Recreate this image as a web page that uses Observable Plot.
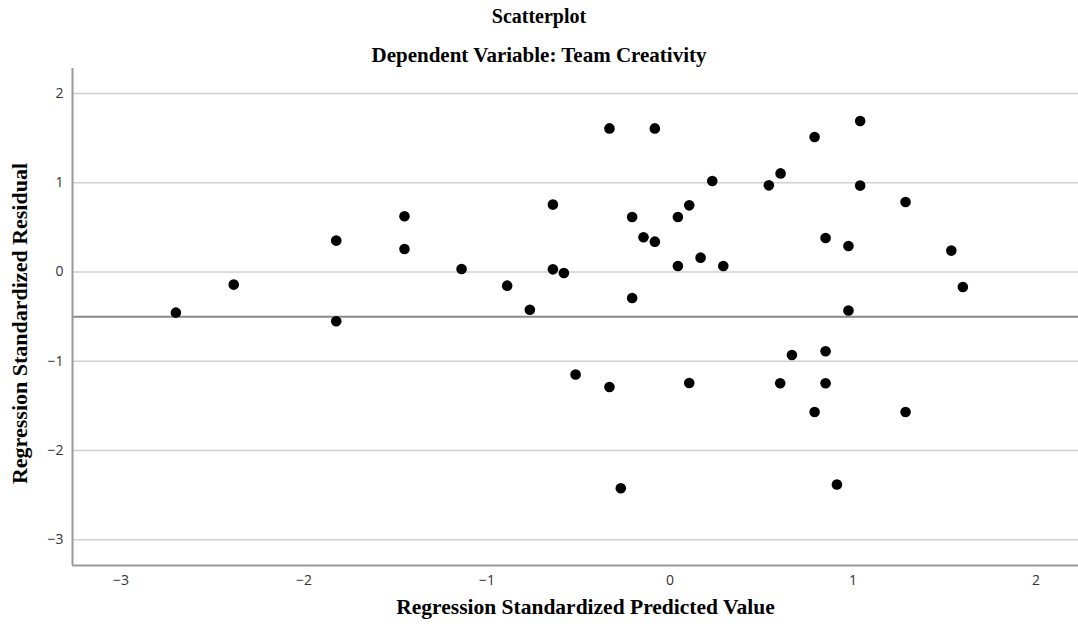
<!DOCTYPE html>
<html><head><meta charset="utf-8">
<script src="https://cdn.jsdelivr.net/npm/d3@7"></script>
<script src="https://cdn.jsdelivr.net/npm/@observablehq/plot@0.6"></script>
<style>
body{margin:0;background:#fff;width:1078px;height:632px;overflow:hidden}
#title{font-family:"Liberation Serif",serif;font-weight:bold;font-size:20px;text-align:center;line-height:32px;height:32px;color:#000}
#subtitle{font-family:"Liberation Serif",serif;font-weight:bold;font-size:21px;text-align:center;line-height:24px;height:24px;margin-top:11px;color:#000}
#chart svg{display:block}
</style></head><body>
<div id="title">Scatterplot</div>
<div id="subtitle">Dependent Variable: Team Creativity</div>
<div id="chart"></div>
<script>
const predicted = [-2.70,-2.384,-1.824,-1.824,-1.451,-1.451,-1.139,-0.890,-0.766,-0.640,-0.640,-0.580,-0.331,-0.083,-0.207,-0.207,-0.145,-0.083,0.043,0.043,0.105,0.167,0.231,0.291,-0.516,-0.331,0.105,-0.269,0.540,0.604,0.790,1.039,1.039,1.287,0.850,0.975,1.537,1.600,0.975,0.666,0.850,0.602,0.850,0.790,1.287,0.912];
const residual  = [-0.455,-0.141,0.352,-0.552,0.624,0.258,0.034,-0.153,-0.422,0.755,0.030,-0.011,1.609,1.609,0.616,-0.291,0.389,0.340,0.616,0.067,0.747,0.161,1.019,0.067,-1.149,-1.288,-1.243,-2.422,0.971,1.105,1.512,1.691,0.968,0.784,0.381,0.291,0.240,-0.168,-0.432,-0.929,-0.888,-1.246,-1.246,-1.568,-1.568,-2.381];
const xTicks = [-3,-2,-1,0,1,2];
const yTicks = [-3,-2,-1,0,1,2];
const xDomain = [-3.265, 2.232];
const yDomain = [-3.288, 2.28];
const referenceLine = [-0.5];
const xLabel = ["Regression Standardized Predicted Value"];
const yLabel = ["Regression Standardized Residual"];

const points = predicted.map((x, i) => ({x, y: residual[i]}));
const serif = {fontFamily: "Liberation Serif", fontWeight: "bold", fill: "#000"};
const tickFmt = d3.format("d");

const chart = Plot.plot({
  width: 1078, height: 565,
  marginLeft: 72, marginRight: 0, marginTop: 1, marginBottom: 67,
  style: {background: "#fff", color: "#333", fontFamily: "Open Sans"},
  x: {domain: xDomain},
  y: {domain: yDomain},
  marks: [
    Plot.ruleY(yTicks, {stroke: "#cfcfcf", strokeWidth: 1.6}),
    Plot.ruleY(referenceLine, {stroke: "#8a8a8a", strokeWidth: 2}),
    Plot.ruleX([xDomain[0]], {stroke: "#999", strokeWidth: 2}),
    Plot.ruleY([yDomain[0]], {stroke: "#999", strokeWidth: 2}),
    Plot.axisX(xTicks, {tickSize: 0, tickPadding: 10, tickFormat: tickFmt, fontSize: 14, fill: "#333", label: null}),
    Plot.axisY(yTicks, {tickSize: 0, tickPadding: 9, tickFormat: tickFmt, fontSize: 14, fill: "#333", label: null}),
    Plot.dot(points, {x: "x", y: "y", r: 5.3, fill: "#000", stroke: "none"}),
    Plot.text(xLabel, {text: d => d, frameAnchor: "bottom", textAnchor: "middle", lineAnchor: "bottom", dy: 48, dx: 10, fontSize: 21.5, ...serif}),
    Plot.text(yLabel, {text: d => d, frameAnchor: "left", textAnchor: "middle", lineAnchor: "bottom", rotate: -90, dx: -46, dy: 6.5, fontSize: 22, ...serif})
  ]
});
document.getElementById("chart").appendChild(chart);
</script>
</body></html>
